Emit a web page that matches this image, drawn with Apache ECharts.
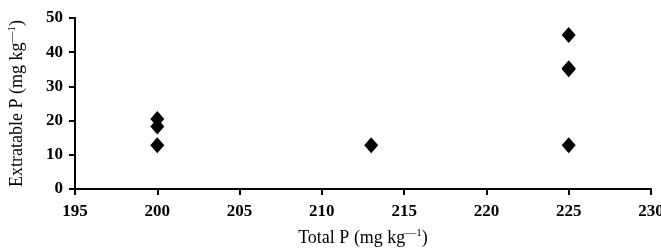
<!DOCTYPE html>
<html style="height: 100%">
<head>
    <meta charset="utf-8">
</head>
<body style="height: 100%; margin: 0; background: #fff">
    <div id="container" style="width: 661px; height: 251px"></div>
    <script type="text/javascript" src="https://cdn.jsdelivr.net/npm/echarts@6/dist/echarts.min.js"></script>
    <script type="text/javascript">
        var totalP = [200, 200, 200, 213, 225, 225, 225, 225];
        var extractableP = [20.5, 18.3, 12.8, 12.8, 45, 35, 35.3, 12.8];
        var xTicks = [195, 200, 205, 210, 215, 220, 225, 230];
        var yTicks = [0, 10, 20, 30, 40, 50];

        var pts = [];
        for (var i = 0; i < totalP.length; i++) {
            pts.push([totalP[i], extractableP[i]]);
        }

        var font = 'Liberation Serif';
        var myChart = echarts.init(document.getElementById('container'));
        var option = {
            animation: false,
            grid: { left: 75, right: 10, top: 18, bottom: 62, outerBoundsMode: 'none', containLabel: false },
            xAxis: {
                type: 'value',
                min: xTicks[0],
                max: xTicks[xTicks.length - 1],
                interval: 5,
                axisLine: { lineStyle: { color: '#000', width: 2 } },
                axisTick: { length: 6, lineStyle: { color: '#000', width: 2 } },
                axisLabel: { color: '#000', fontFamily: font, fontSize: 17, fontWeight: 'bold', margin: 14 },
                splitLine: { show: false },
                name: 'Total P (mg kg{s|—1})',
                nameLocation: 'middle',
                nameGap: 39,
                nameTextStyle: {
                    color: '#000', fontFamily: font, fontSize: 18,
                    rich: { s: { fontSize: 11, color: '#000', fontFamily: font, padding: [0, 0, 10, 0] } }
                }
            },
            yAxis: {
                type: 'value',
                min: yTicks[0],
                max: yTicks[yTicks.length - 1],
                interval: 10,
                axisLine: { show: true, lineStyle: { color: '#000', width: 2 } },
                axisTick: { show: true, length: 6, lineStyle: { color: '#000', width: 2 } },
                axisLabel: { color: '#000', fontFamily: font, fontSize: 17, fontWeight: 'bold', margin: 12 },
                splitLine: { show: false },
                name: 'Extratable P (mg kg{s|—1})',
                nameLocation: 'middle',
                nameGap: 47,
                nameTextStyle: {
                    color: '#000', fontFamily: font, fontSize: 18,
                    rich: { s: { fontSize: 11, color: '#000', fontFamily: font, padding: [0, 0, 10, 0] } }
                }
            },
            series: [{
                type: 'scatter',
                symbol: 'diamond',
                symbolSize: [14, 16],
                itemStyle: { color: '#000', opacity: 1 },
                data: pts
            }]
        };
        myChart.setOption(option);
    </script>
</body>
</html>
